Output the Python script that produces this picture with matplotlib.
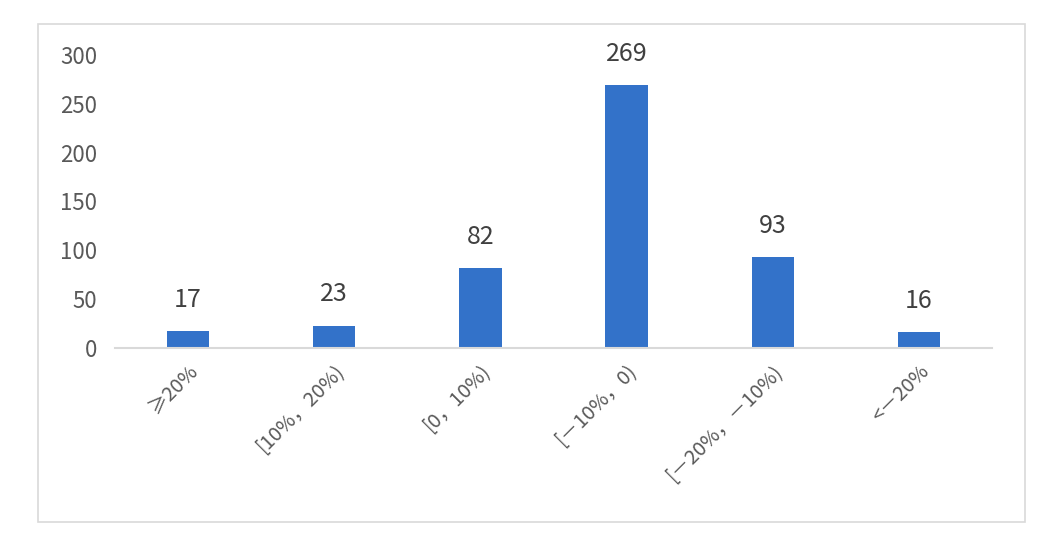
import matplotlib.pyplot as plt
from matplotlib.patches import Rectangle
from matplotlib.transforms import ScaledTranslation

plt.rcParams['font.family'] = ['Noto Sans CJK SC', 'DejaVu Sans']

categories = ['≥20%', '[10%，20%)', '[0，10%)', '[－10%，0)', '[－20%，－10%)', '<－20%']
counts = [17, 23, 82, 269, 93, 16]
yticks = [0, 50, 100, 150, 200, 250, 300]

fig = plt.figure(figsize=(10.6, 5.44), dpi=100)
fig.patches.append(Rectangle((38 / 1060, 1 - 522 / 544), 987 / 1060, 498 / 544,
                             transform=fig.transFigure, fill=False,
                             edgecolor='#d9d9d9', linewidth=1.2))
ax = fig.add_axes([115 / 1060, 1 - 348 / 544, 877 / 1060, 293 / 544])

x = range(len(categories))
bars = ax.bar(x, counts, width=0.29, color='#3372c9')
for b, v in zip(bars, counts):
    ax.annotate(str(v), (b.get_x() + b.get_width() / 2, v), xytext=(0, 13),
                textcoords='offset points', ha='center', va='bottom',
                fontsize=18, color='#404040', fontweight='light')

ax.set_xlim(-0.5, 5.5)
ax.set_ylim(0, 300)
ax.set_yticks(yticks)
ax.set_xticks(list(x))
ax.set_xticklabels(categories, rotation=45, ha='right', rotation_mode='anchor',
                   fontsize=14.5, color='#595959', fontweight='light')
# nudge rotated labels a little to the right
shift = ScaledTranslation(5 / 100, 0, fig.dpi_scale_trans)
for lbl in ax.get_xticklabels():
    lbl.set_transform(lbl.get_transform() + shift)
ax.tick_params(axis='x', length=0, pad=9)
ax.tick_params(axis='y', length=0, pad=13, labelsize=16, labelcolor='#595959')
for lbl in ax.get_yticklabels():
    lbl.set_fontweight('light')
for s in ['top', 'right', 'left']:
    ax.spines[s].set_visible(False)
ax.spines['bottom'].set_color('#d9d9d9')
ax.spines['bottom'].set_linewidth(1.5)

fig.savefig('out.png', dpi=100)
